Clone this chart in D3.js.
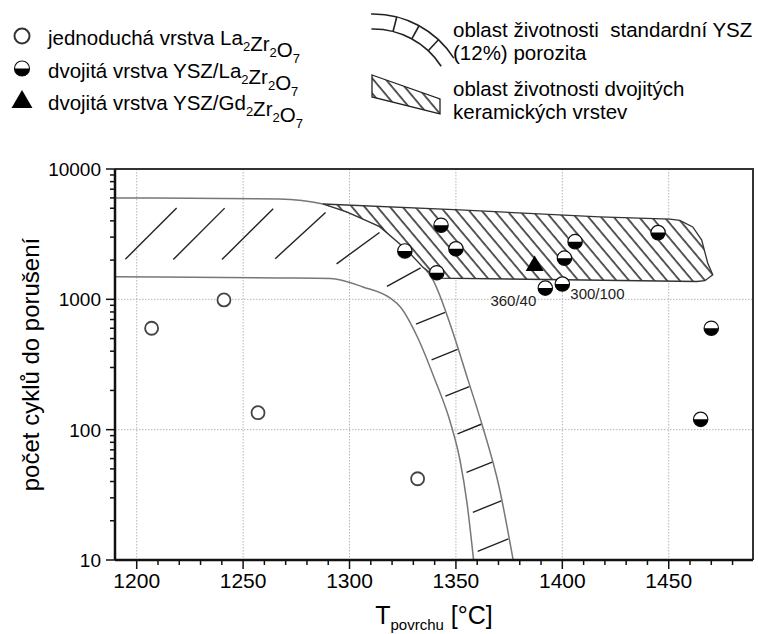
<!DOCTYPE html>
<html>
<head>
<meta charset="utf-8">
<script src="https://cdn.jsdelivr.net/npm/d3@7"></script>
<style>
  body { margin: 0; background: #fff; }
  svg { font-family: "Liberation Sans", Arial, sans-serif; }
</style>
</head>
<body>
<div id="chart"></div>
<script>
/* CONSTANTS */
const W = 758, H = 634,
  margin = {top: 169, right: 5, bottom: 74, left: 115},
  width = W - margin.left - margin.right,
  height = H - margin.top - margin.bottom;

/* DATA */
// T [°C], počet cyklů
const singleLa = [
  {t: 1207, n: 600},
  {t: 1241, n: 990},
  {t: 1257, n: 135},
  {t: 1332, n: 42}
];
const doubleLa = [
  {t: 1326, n: 2350}, {t: 1341, n: 1600}, {t: 1343, n: 3700}, {t: 1350, n: 2440},
  {t: 1392, n: 1220}, {t: 1400, n: 1310}, {t: 1401, n: 2070}, {t: 1406, n: 2770},
  {t: 1445, n: 3250}, {t: 1465, n: 120}, {t: 1470, n: 600}
];
const doubleGd = [{t: 1387, n: 1840}];
const pointLabels = [
  {t: 1392, n: 1220, text: "360/40", side: "left"},
  {t: 1400, n: 1310, text: "300/100", side: "right"}
];
// boundaries of the standard YSZ band
const yszUpper = [
  {t: 1189.8, n: 6000}, {t: 1267, n: 5890}, {t: 1287.5, n: 5390}, {t: 1298.8, n: 4680},
  {t: 1314.3, n: 3590}, {t: 1322.3, n: 2850}, {t: 1333.1, n: 1900}, {t: 1339.2, n: 1410},
  {t: 1348.2, n: 582}, {t: 1355.7, n: 240}, {t: 1362.3, n: 109}, {t: 1370.3, n: 36.3},
  {t: 1376.9, n: 10}
];
const yszLower = [
  {t: 1189.8, n: 1490}, {t: 1267, n: 1460}, {t: 1291, n: 1445}, {t: 1306.3, n: 1245},
  {t: 1319, n: 1025}, {t: 1324, n: 870}, {t: 1332, n: 510}, {t: 1340, n: 245},
  {t: 1347.5, n: 112}, {t: 1351.9, n: 58.5}, {t: 1355.2, n: 27.4}, {t: 1358.3, n: 10}
];
// outline of the double-layer region
const doubleRegion = [
  {t: 1287.5, n: 5390}, {t: 1351.8, n: 4850}, {t: 1417.6, n: 4290}, {t: 1450.5, n: 4130},
  {t: 1455.2, n: 4030}, {t: 1461.3, n: 3590}, {t: 1465.5, n: 2850}, {t: 1468.3, n: 1900},
  {t: 1470.7, n: 1540}, {t: 1467, n: 1390}, {t: 1463.2, n: 1370}, {t: 1341, n: 1457},
  {t: 1334.4, n: 1770}, {t: 1326.9, n: 2390}, {t: 1314.2, n: 3610}, {t: 1298.7, n: 4680}
];
const xTicks = [1200, 1250, 1300, 1350, 1400, 1450];
const yTicks = [10, 100, 1000, 10000];
const legendLeft = [
  {type: "open", text: "jednoduchá vrstva La_2Zr_2O_7"},
  {type: "half", text: "dvojitá vrstva YSZ/La_2Zr_2O_7"},
  {type: "tri", text: "dvojitá vrstva YSZ/Gd_2Zr_2O_7"}
];
const legendRight = [
  ["oblast životnosti  standardní YSZ", "(12%) porozita"],
  ["oblast životnosti dvojitých", "keramických vrstev"]
];

/* SCALES */
const x = d3.scaleLinear().domain([1189.8, 1489.6]).range([0, width]);
const y = d3.scaleLog().domain([10, 10000]).range([height, 0]);

const svg = d3.select("#chart").append("svg")
  .attr("width", W).attr("height", H);

// hatch pattern for the double-layer region
const defs = svg.append("defs");
defs.append("pattern")
  .attr("id", "hatch")
  .attr("patternUnits", "userSpaceOnUse")
  .attr("width", 9.7).attr("height", 10)
  .attr("patternTransform", "rotate(-40)")
  .append("line")
  .attr("x1", 2).attr("y1", -2).attr("x2", 2).attr("y2", 12)
  .attr("stroke", "#000").attr("stroke-width", 1.3);
defs.append("clipPath").attr("id", "plotclip")
  .append("rect").attr("width", width).attr("height", height);

const g = svg.append("g")
  .attr("transform", `translate(${margin.left},${margin.top})`);

/* GRID */
g.append("g").selectAll("line")
  .data(xTicks).join("line")
  .attr("x1", d => x(d)).attr("x2", d => x(d))
  .attr("y1", 0).attr("y2", height)
  .attr("stroke", "#b5b5b5").attr("stroke-dasharray", "1.5,1.5");
g.append("g").selectAll("line")
  .data([100, 1000]).join("line")
  .attr("x1", 0).attr("x2", width)
  .attr("y1", d => y(d)).attr("y2", d => y(d))
  .attr("stroke", "#b5b5b5").attr("stroke-dasharray", "1.5,1.5");

/* YSZ BAND */
const line = d3.line().x(d => x(d.t)).y(d => y(d.n)).curve(d3.curveMonotoneX);
const band = g.append("g").attr("clip-path", "url(#plotclip)");
const upperPath = band.append("path").datum(yszUpper).attr("d", line)
  .attr("fill", "none").attr("stroke", "#777").attr("stroke-width", 1.5);
const lowerPath = band.append("path").datum(yszLower).attr("d", line)
  .attr("fill", "none").attr("stroke", "#777").attr("stroke-width", 1.5);

// short slanted strokes across the band
const uNode = upperPath.node(), lNode = lowerPath.node();
const uLen = uNode.getTotalLength(), lLen = lNode.getTotalLength();
const uPts = d3.range(0, uLen, 1).map(s => uNode.getPointAtLength(s));
const bandTicks = [];
let s = 36;
while (s < lLen) {
  const pl = lNode.getPointAtLength(s);
  let best = uPts[0], bd = Infinity;
  uPts.forEach(p => {
    const dd = (p.x - pl.x) ** 2 + (p.y - pl.y) ** 2;
    if (dd < bd) { bd = dd; best = p; }
  });
  const w = Math.sqrt(bd);
  const phi = Math.atan2(-(best.y - pl.y), best.x - pl.x) * 180 / Math.PI;
  const k = Math.max(0, Math.min(1, (phi - 20) / 70));
  const alpha = 22 + 23 * k;
  const f = 0.85 - 0.2 * k;
  const L = f * w / Math.cos((alpha - phi) * Math.PI / 180);
  const a = alpha * Math.PI / 180;
  const cx = pl.x + 0.55 * (best.x - pl.x), cy = pl.y + 0.55 * (best.y - pl.y);
  bandTicks.push({
    x1: cx - Math.cos(a) * L / 2, y1: cy + Math.sin(a) * L / 2,
    x2: cx + Math.cos(a) * L / 2, y2: cy - Math.sin(a) * L / 2
  });
  s += 39 + 9 * k;
}
band.append("g").selectAll("line")
  .data(bandTicks).join("line")
  .attr("x1", d => d.x1).attr("y1", d => d.y1)
  .attr("x2", d => d.x2).attr("y2", d => d.y2)
  .attr("stroke", "#222").attr("stroke-width", 1.4);

/* DOUBLE-LAYER REGION */
const regionLine = d3.line().x(d => x(d.t)).y(d => y(d.n));
g.append("path").datum(doubleRegion)
  .attr("d", d => regionLine(d) + "Z")
  .attr("fill", "#fff");
g.append("path").datum(doubleRegion)
  .attr("d", d => regionLine(d) + "Z")
  .attr("fill", "url(#hatch)")
  .attr("stroke", "#333").attr("stroke-width", 1.3);

/* AXES */
const xMinor = d3.range(1200, 1490, 10).filter(d => !xTicks.includes(d));
const yMinor = [];
[10, 100, 1000].forEach(dec => d3.range(2, 10).forEach(m => yMinor.push(dec * m)));

// frame
g.append("path")
  .attr("d", `M0,0H${width}V${height}`)
  .attr("fill", "none").attr("stroke", "#333").attr("stroke-width", 2);

const xAxis = g.append("g").attr("transform", `translate(0,${height})`);
xAxis.append("line").attr("x1", 0).attr("x2", width).attr("stroke", "#111").attr("stroke-width", 2.5);
xAxis.selectAll(".minor").data(xMinor).join("line").attr("class", "minor")
  .attr("x1", d => x(d)).attr("x2", d => x(d)).attr("y1", 0).attr("y2", 5)
  .attr("stroke", "#111").attr("stroke-width", 1.5);
xAxis.selectAll(".major").data(xTicks).join("line").attr("class", "major")
  .attr("x1", d => x(d)).attr("x2", d => x(d)).attr("y1", 0).attr("y2", 9)
  .attr("stroke", "#111").attr("stroke-width", 1.5);
xAxis.selectAll("text").data(xTicks).join("text")
  .attr("x", d => x(d)).attr("y", 28)
  .attr("text-anchor", "middle").attr("font-size", 21).attr("fill", "#000")
  .text(d => d);

const yAxis = g.append("g");
yAxis.append("line").attr("y1", 0).attr("y2", height).attr("stroke", "#111").attr("stroke-width", 2.5);
yAxis.selectAll(".minor").data(yMinor).join("line").attr("class", "minor")
  .attr("y1", d => y(d)).attr("y2", d => y(d)).attr("x1", 0).attr("x2", -5)
  .attr("stroke", "#111").attr("stroke-width", 1.5);
yAxis.selectAll(".major").data(yTicks).join("line").attr("class", "major")
  .attr("y1", d => y(d)).attr("y2", d => y(d)).attr("x1", 0).attr("x2", -9)
  .attr("stroke", "#111").attr("stroke-width", 1.5);
yAxis.selectAll("text").data(yTicks).join("text")
  .attr("x", -14).attr("y", d => y(d)).attr("dy", "0.36em")
  .attr("text-anchor", "end").attr("font-size", 19).attr("fill", "#000")
  .text(d => d);

// axis titles
svg.append("text")
  .attr("transform", `translate(39,${margin.top + height / 2}) rotate(-90)`)
  .attr("text-anchor", "middle").attr("font-size", 24).attr("fill", "#000")
  .text("počet cyklů do porušení");
const xt = svg.append("text")
  .attr("x", margin.left + width / 2).attr("y", 624)
  .attr("text-anchor", "middle").attr("font-size", 25).attr("fill", "#000");
xt.append("tspan").text("T");
xt.append("tspan").attr("font-size", 15).attr("dy", 6).text("povrchu");
xt.append("tspan").attr("dy", -6).text(" [°C]");

/* MARKERS */
const halfArc = r => d3.arc()({innerRadius: 0, outerRadius: r, startAngle: Math.PI / 2, endAngle: Math.PI * 1.5});
function drawHalf(sel, r) {
  sel.append("circle").attr("r", r).attr("fill", "#fff").attr("stroke", "#111").attr("stroke-width", 1.2);
  sel.append("path").attr("d", halfArc(r)).attr("fill", "#000");
}

g.append("g").selectAll("circle")
  .data(singleLa).join("circle")
  .attr("cx", d => x(d.t)).attr("cy", d => y(d.n)).attr("r", 6.5)
  .attr("fill", "#fff").attr("stroke", "#444").attr("stroke-width", 1.8);

g.append("g").selectAll("g")
  .data(doubleLa).join("g")
  .attr("transform", d => `translate(${x(d.t)},${y(d.n)})`)
  .each(function () { drawHalf(d3.select(this), 7.2); });

g.append("g").selectAll("path")
  .data(doubleGd).join("path")
  .attr("transform", d => `translate(${x(d.t)},${y(d.n) + 1})`)
  .attr("d", d3.symbol(d3.symbolTriangle, 140))
  .attr("fill", "#000");

g.append("g").selectAll("text")
  .data(pointLabels).join("text")
  .attr("x", d => x(d.t) + (d.side === "left" ? -9 : 8))
  .attr("y", d => y(d.n) + (d.side === "left" ? 18 : 15))
  .attr("text-anchor", d => d.side === "left" ? "end" : "start")
  .attr("font-size", 15).attr("fill", "#222")
  .text(d => d.text);

/* LEGEND */
function subText(sel, str, size) {
  str.split(/(_\d)/).filter(p => p).forEach(p => {
    if (p[0] === "_") {
      sel.append("tspan").attr("font-size", size * 0.65).attr("dy", 6).text(p.slice(1));
      sel.append("tspan").attr("dy", -6).text("");
    } else {
      sel.append("tspan").text(p);
    }
  });
}

const legL = svg.append("g");
legendLeft.forEach((d, i) => {
  const cy = 36 + i * 32.5;
  const row = legL.append("g").attr("transform", `translate(22,${cy})`);
  if (d.type === "open") {
    row.append("circle").attr("r", 7.5).attr("fill", "#fff").attr("stroke", "#333").attr("stroke-width", 2);
  } else if (d.type === "half") {
    drawHalf(row, 7.5);
  } else {
    row.append("path").attr("d", d3.symbol(d3.symbolTriangle, 190)).attr("transform", "translate(0,1)").attr("fill", "#000");
  }
  const t = legL.append("text").attr("x", 48).attr("y", cy + 9)
    .attr("font-size", 20.5).attr("fill", "#000");
  subText(t, d.text, 20);
});

const legR = svg.append("g");
// arcs icon
const arcC = {x: 373, y: 110};
[96, 81].forEach(r => {
  const p = d3.path();
  p.arc(arcC.x, arcC.y, r, -Math.PI / 2 - 0.02, -Math.PI / 2 + 1.0);
  legR.append("path").attr("d", p.toString())
    .attr("fill", "none").attr("stroke", "#222").attr("stroke-width", 1.6);
});
[0.25, 0.5, 0.75].forEach(a => {
  const ang = -Math.PI / 2 + a;
  legR.append("line")
    .attr("x1", arcC.x + 81 * Math.cos(ang)).attr("y1", arcC.y + 81 * Math.sin(ang))
    .attr("x2", arcC.x + 96 * Math.cos(ang)).attr("y2", arcC.y + 96 * Math.sin(ang))
    .attr("stroke", "#222").attr("stroke-width", 1.6);
});
// hatched icon
legR.append("path")
  .attr("d", "M372,75L440,99L440,114L372,97Z")
  .attr("fill", "url(#hatch)").attr("stroke", "#222").attr("stroke-width", 1.3);

legendRight.forEach((lines, i) => {
  const t = legR.append("text").attr("x", 453).attr("y", i === 0 ? 37 : 96)
    .attr("font-size", 20.5).attr("fill", "#000").style("white-space", "pre");
  lines.forEach((ln, j) => {
    t.append("tspan").attr("x", 453).attr("dy", j === 0 ? 0 : 23).text(ln);
  });
});
</script>
</body>
</html>
